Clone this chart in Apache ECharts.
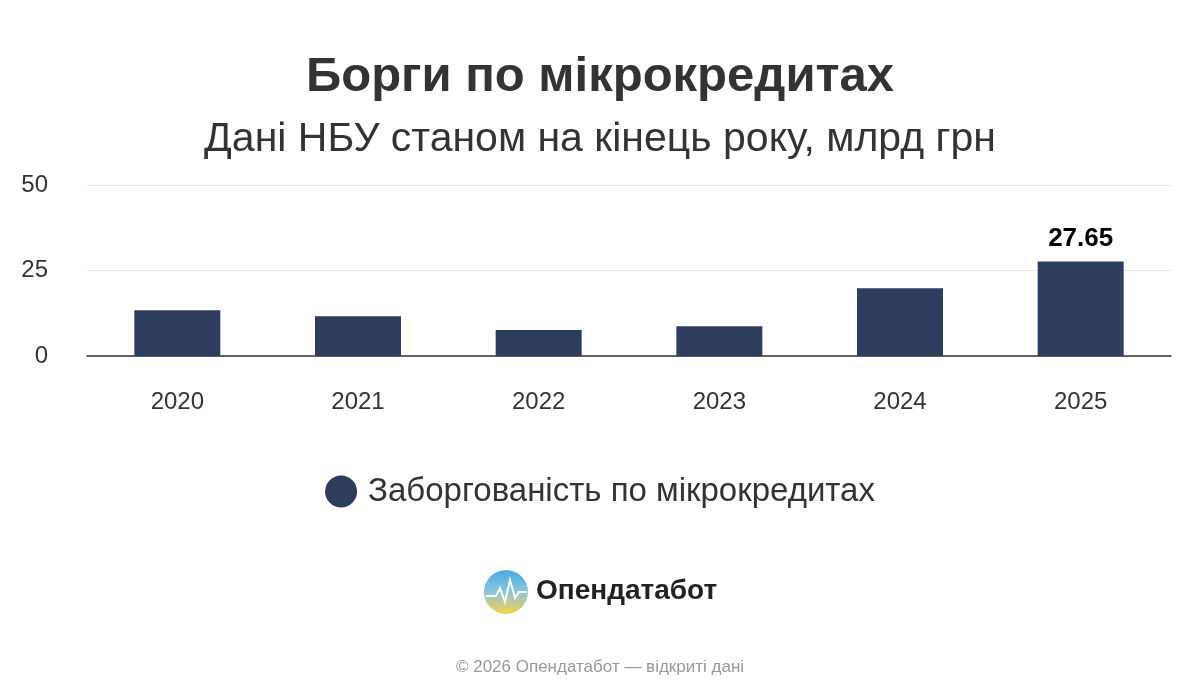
<!DOCTYPE html>
<html><head><meta charset="utf-8">
<script src="https://cdn.jsdelivr.net/npm/echarts@6/dist/echarts.min.js"></script>
<style>html,body{margin:0;background:#fff}#c{width:1200px;height:700px}</style>
</head><body><div id="c"></div>
<script>
const categories=['2020','2021','2022','2023','2024','2025'];
const values=[13.4,11.6,7.6,8.7,19.8,27.65];
const yTicks=[0,25,50];
const chart=echarts.init(document.getElementById('c'));
const F='"Liberation Sans", Arial, sans-serif';
chart.setOption({
 animation:false,
 title:[{text:'Борги по мікрокредитах',left:'center',top:48,textStyle:{fontFamily:F,fontSize:49,fontWeight:'bold',color:'#333'}},
  {text:'Дані НБУ станом на кінець року, млрд грн',left:'center',top:114,textStyle:{fontFamily:F,fontSize:41,fontWeight:'normal',color:'#333'}},
  {text:'© 2026 Опендатабот — відкриті дані',left:'center',top:654,textStyle:{fontFamily:F,fontSize:17,fontWeight:'normal',color:'#999'}}],
 legend:{bottom:187,left:'center',icon:'circle',itemWidth:32,itemHeight:32,itemGap:10,textStyle:{fontFamily:F,fontSize:33,color:'#333',padding:[0,0,0,6]}},
 grid:{left:87,right:29,top:185,bottom:344},
 xAxis:{type:'category',data:categories,axisTick:{show:false},axisLine:{lineStyle:{color:'#333',width:1.5}},axisLabel:{fontFamily:F,fontSize:24,color:'#333',margin:34}},
 yAxis:{type:'value',min:0,max:50,interval:25,axisLabel:{fontFamily:F,fontSize:24,color:'#333',margin:39},splitLine:{lineStyle:{color:'#e6e6e6'}}},
 series:[{type:'bar',name:'Заборгованість по мікрокредитах',data:values.map((v,i)=>({value:v,label:{show:i===values.length-1}})),barWidth:86,itemStyle:{color:'#2e3c5e'},
  label:{position:'top',fontFamily:F,fontSize:26,fontWeight:'bold',color:'#000',distance:10}}],
 graphic:[
  {type:'circle',shape:{cx:506,cy:592,r:22},style:{fill:{type:'linear',x:0,y:0,x2:0,y2:1,colorStops:[{offset:0,color:'#4aa8e8'},{offset:0.5,color:'#8cc6d8'},{offset:1,color:'#f6d24a'}]}}},
  {type:'polyline',shape:{points:[[486,596],[496,596],[500,588],[505,602],[510,580],[515,598],[519,592],[527,592]]},style:{stroke:'#fff',lineWidth:2,fill:null}},
  {type:'text',left:536,top:577,style:{text:'Опендатабот',font:'bold 28px '+F,fill:'#222'}}
 ]
});
</script></body></html>
